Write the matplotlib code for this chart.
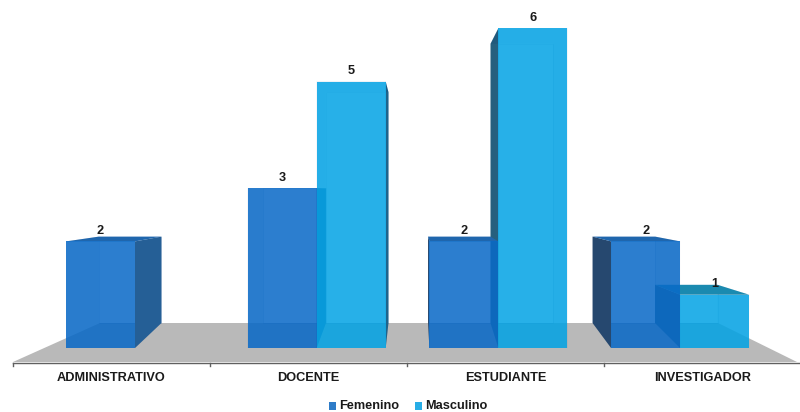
import matplotlib
matplotlib.use('Agg')
import matplotlib.pyplot as plt
from matplotlib.patches import Polygon

categories = ['ADMINISTRATIVO', 'DOCENTE', 'ESTUDIANTE', 'INVESTIGADOR']
femenino = [2, 3, 2, 2]
masculino = [None, 5, 6, 1]

plt.rcParams['font.family'] = ['Liberation Sans', 'DejaVu Sans']

BAR_W = 69
COLORS = {
    'f': dict(front=(9/255, 106/255, 200/255, .85), top='#1f66ad', right='#255f96', left='#26486f', legend='#2e7cc8'),
    'm': dict(front=(4/255, 165/255, 230/255, .85), top='#1a8ab0', right='#1e648c', left='#26607e', legend='#27ade6'),
}


# simple perspective: front plane is the value scale, back plane sits further away
def front_y(v):
    return 348 - 53.3 * v


def back_y(v):
    return 333 - 48.2 * v


def back_x(x):
    return 0.9055 * x + 39.2


def draw_bar(ax, x0, v, c):
    x1 = x0 + BAR_W
    bx0, bx1 = back_x(x0), back_x(x1)
    ft, bt = front_y(v), back_y(v)
    inner = (0, 0.2, 0.45, .12)
    # back wall and floor of the box
    ax.add_patch(Polygon([(bx0, bt), (bx1, bt), (bx1, 323), (bx0, 323)], fc=(0, 0.2, 0.5, .06), ec=(0, .2, .5, .15), lw=.6, zorder=3))
    ax.add_patch(Polygon([(x0, 348), (x1, 348), (bx1, 323), (bx0, 323)], fc=inner, lw=0, zorder=3))
    # side walls, solid when they stick out past the front face
    ax.add_patch(Polygon([(bx0, bt), (x0, ft), (x0, 348), (bx0, 323)], fc=c['left'] if bx0 < x0 else inner, lw=0, zorder=4))
    ax.add_patch(Polygon([(bx1, bt), (x1, ft), (x1, 348), (bx1, 323)], fc=c['right'] if bx1 > x1 else inner, lw=0, zorder=4))
    ax.add_patch(Polygon([(bx0, bt), (bx1, bt), (x1, ft), (x0, ft)], fc=c['top'] if bt < ft else inner, lw=0, zorder=5))


fig = plt.figure(figsize=(8, 4.12), dpi=100)
ax = fig.add_axes([0, 0, 1, 1])
ax.set_xlim(0, 800)
ax.set_ylim(412, 0)
ax.axis('off')

# floor
ax.add_patch(Polygon([(13, 362), (100, 323), (718, 323), (797, 362)], fc='#b9b9b9', lw=0, zorder=1))

# x axis with tick marks between the groups
ax.plot([13, 800], [362.7, 362.7], color='#606060', lw=1, zorder=2)
for i in range(len(categories) + 1):
    tx = 13 + 197 * i
    ax.plot([tx, tx], [362.7, 366], color='#606060', lw=1, zorder=2)

for i, name in enumerate(categories):
    ax.text(111.5 + 197 * i, 378, name, ha='center', va='center', fontsize=9.2, fontweight='bold', color='#1a1a1a')

    center = 135 + 181.7 * i
    bars = [(center - BAR_W, femenino[i], COLORS['f']), (center, masculino[i], COLORS['m'])]
    for x0, v, c in bars:
        if v is None:
            continue
        draw_bar(ax, x0, v, c)
    # fronts go on last so the walls behind show through
    for x0, v, c in bars:
        if v is None:
            continue
        ax.add_patch(Polygon([(x0, front_y(v)), (x0 + BAR_W, front_y(v)), (x0 + BAR_W, 348), (x0, 348)], fc=c['front'], lw=0, zorder=6))
        ax.text(x0 + BAR_W / 2, front_y(v) - 10.5, str(v), ha='center', va='center', fontsize=9.2, fontweight='bold', color='#1a1a1a', zorder=7)

# legend
ax.add_patch(Polygon([(329, 402), (336, 402), (336, 410), (329, 410)], fc=COLORS['f']['legend'], lw=0))
ax.text(339.5, 406, 'Femenino', ha='left', va='center', fontsize=9.2, fontweight='bold', color='#1a1a1a')
ax.add_patch(Polygon([(415, 402), (422, 402), (422, 410), (415, 410)], fc=COLORS['m']['legend'], lw=0))
ax.text(425.5, 406, 'Masculino', ha='left', va='center', fontsize=9.2, fontweight='bold', color='#1a1a1a')

fig.savefig('out.png', dpi=100)
